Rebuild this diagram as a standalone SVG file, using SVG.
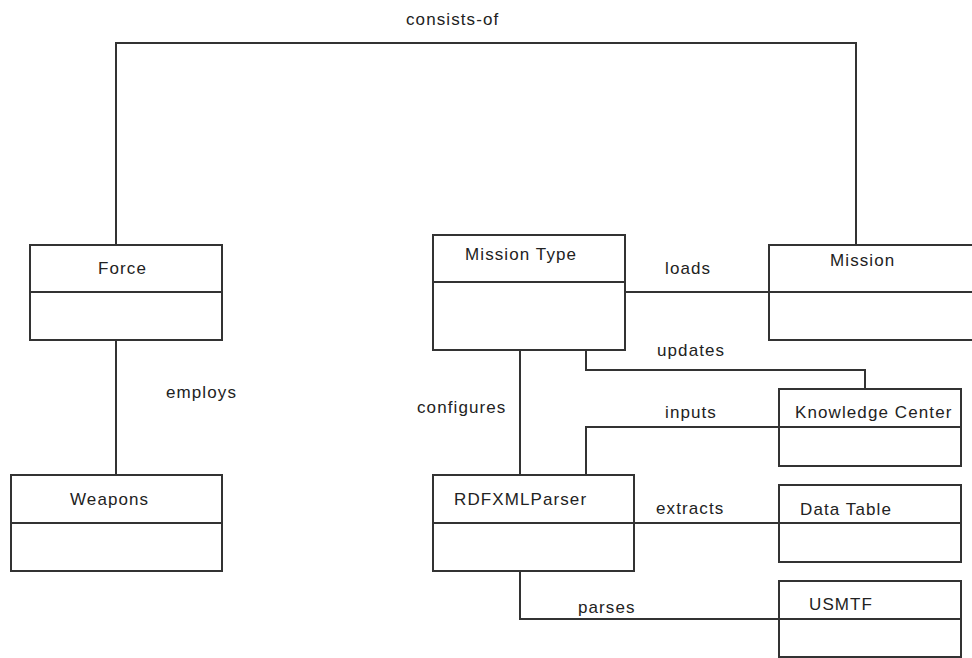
<svg xmlns="http://www.w3.org/2000/svg" width="972" height="658" viewBox="0 0 972 658">
<style>
.b,line,polyline{fill:none;stroke:#333;stroke-width:2}
.b{fill:#fff}
text{font-family:"Liberation Sans",Arial,sans-serif;font-size:17px;letter-spacing:1.1px;fill:#222}
</style>
<rect x="0" y="0" width="972" height="658" style="fill:#fff;stroke:none"/>
<g id="connectors">
<polyline points="116,245 116,43 856,43 856,245"/>
<line x1="116" y1="340" x2="116" y2="475"/>
<line x1="625" y1="292" x2="769" y2="292"/>
<polyline points="586,350 586,370 865,370 865,389"/>
<line x1="520" y1="350" x2="520" y2="475"/>
<polyline points="586,475 586,427 779,427"/>
<line x1="634" y1="523" x2="779" y2="523"/>
<polyline points="520,571 520,619 779,619"/>
<text x="406" y="25">consists-of</text>
<text x="166" y="398">employs</text>
<text x="665" y="274">loads</text>
<text x="657" y="356">updates</text>
<text x="417" y="413">configures</text>
<text x="665" y="418">inputs</text>
<text x="656" y="514">extracts</text>
<text x="578" y="613">parses</text>
</g>
<g id="force">
<rect class="b" x="30" y="245" width="192" height="95"/>
<line x1="30" y1="292" x2="222" y2="292"/>
<text x="98" y="274">Force</text>
</g>
<g id="weapons">
<rect class="b" x="11" y="475" width="211" height="96"/>
<line x1="11" y1="523" x2="222" y2="523"/>
<text x="70" y="505">Weapons</text>
</g>
<g id="mission-type">
<rect class="b" x="433" y="235" width="192" height="115"/>
<line x1="433" y1="282" x2="625" y2="282"/>
<text x="465" y="260">Mission Type</text>
</g>
<g id="mission">
<rect class="b" x="769" y="245" width="210" height="95"/>
<line x1="769" y1="292" x2="979" y2="292"/>
<text x="830" y="266">Mission</text>
</g>
<g id="rdfxmlparser">
<rect class="b" x="433" y="475" width="201" height="96"/>
<line x1="433" y1="523" x2="634" y2="523"/>
<text x="454" y="505">RDFXMLParser</text>
</g>
<g id="knowledge-center">
<rect class="b" x="779" y="389" width="182" height="77"/>
<line x1="779" y1="427" x2="961" y2="427"/>
<text x="795" y="418">Knowledge Center</text>
</g>
<g id="data-table">
<rect class="b" x="779" y="485" width="182" height="77"/>
<line x1="779" y1="523" x2="961" y2="523"/>
<text x="800" y="515">Data Table</text>
</g>
<g id="usmtf">
<rect class="b" x="779" y="581" width="182" height="76"/>
<line x1="779" y1="619" x2="961" y2="619"/>
<text x="809" y="610">USMTF</text>
</g>
</svg>
